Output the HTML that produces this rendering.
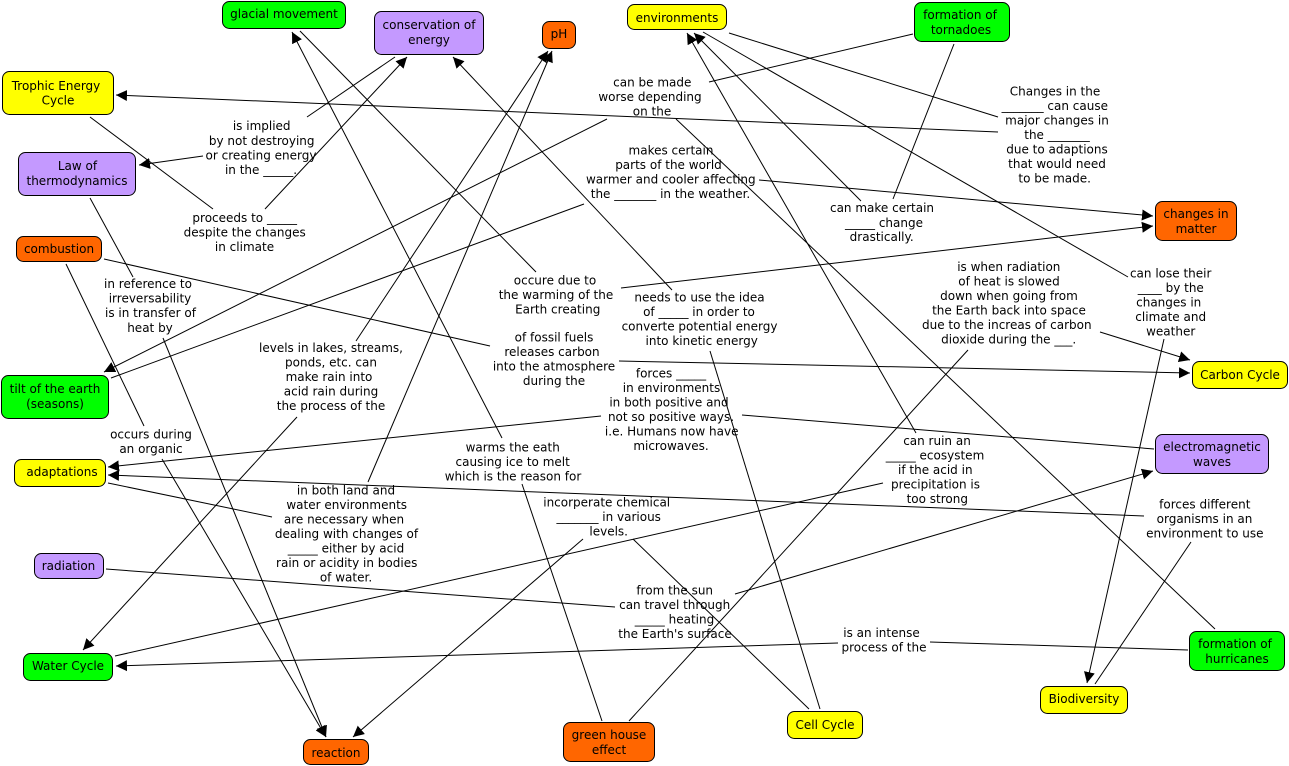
<!DOCTYPE html>
<html><head><meta charset="utf-8"><style>
html,body{margin:0;padding:0;background:#fff}
svg{display:block}
text{font-family:"DejaVu Sans","Liberation Sans",sans-serif;font-size:12px;fill:#000;text-anchor:middle}
.n{stroke:#000;stroke-width:1}
.g{fill:#00ff00}.y{fill:#ffff00}.p{fill:#c499ff}.o{fill:#ff6600}
line{stroke:#000;stroke-width:1}
line.a{marker-end:url(#m)}
</style></head><body>
<svg width="1289" height="766" viewBox="0 0 1289 766" xmlns="http://www.w3.org/2000/svg">
<defs><marker id="m" markerUnits="userSpaceOnUse" markerWidth="12" markerHeight="12" refX="11" refY="6" orient="auto"><path d="M0,0.5 L11,6 L0,11.5 Z" fill="#000"/></marker></defs>

<line x1="90" y1="117" x2="213" y2="209"/>
<line class="a" x1="265" y1="209" x2="407" y2="57"/>
<line x1="395" y1="57" x2="307" y2="117"/>
<line class="a" x1="203" y1="156" x2="139" y2="165"/>
<line x1="90" y1="198" x2="133" y2="277"/>
<line class="a" x1="163" y1="338" x2="326" y2="737"/>
<line x1="66" y1="264" x2="144" y2="426"/>
<line class="a" x1="162" y1="459" x2="326" y2="737"/>
<line x1="104" y1="259" x2="490" y2="346"/>
<line class="a" x1="619" y1="361" x2="1190" y2="373"/>
<line x1="300" y1="31" x2="536" y2="272"/>
<line class="a" x1="621" y1="288" x2="1153" y2="226"/>
<line class="a" x1="502" y1="438" x2="292" y2="32"/>
<line x1="602" y1="721" x2="522" y2="484"/>
<line x1="913" y1="34" x2="709" y2="82"/>
<line x1="676" y1="119" x2="1215" y2="629"/>
<line class="a" x1="998" y1="132" x2="116" y2="95"/>
<line x1="729" y1="33" x2="998" y2="117"/>
<line x1="703" y1="32" x2="1128" y2="277"/>
<line class="a" x1="1164" y1="339" x2="1087" y2="683"/>
<line x1="1191" y1="542" x2="1095" y2="684"/>
<line class="a" x1="1144" y1="516" x2="108" y2="475"/>
<line x1="108" y1="483" x2="272" y2="517"/>
<line class="a" x1="368" y1="482" x2="552" y2="51"/>
<line class="a" x1="356" y1="341" x2="548" y2="51"/>
<line class="a" x1="297" y1="417" x2="83" y2="650"/>
<line x1="115" y1="656" x2="883" y2="483"/>
<line class="a" x1="916" y1="433" x2="687" y2="33"/>
<line x1="954" y1="44" x2="893" y2="199"/>
<line class="a" x1="861" y1="201" x2="694" y2="33"/>
<line x1="111" y1="378" x2="584" y2="204"/>
<line class="a" x1="759" y1="180" x2="1153" y2="216"/>
<line class="a" x1="607" y1="119" x2="104" y2="372"/>
<line x1="629" y1="721" x2="968" y2="350"/>
<line class="a" x1="1100" y1="332" x2="1190" y2="360"/>
<line x1="820" y1="709" x2="710" y2="351"/>
<line class="a" x1="672" y1="290" x2="453" y2="57"/>
<line x1="1154" y1="449" x2="742" y2="415"/>
<line class="a" x1="601" y1="416" x2="108" y2="467"/>
<line x1="106" y1="569" x2="615" y2="607"/>
<line class="a" x1="735" y1="594" x2="1153" y2="471"/>
<line x1="1188" y1="650" x2="930" y2="642"/>
<line class="a" x1="838" y1="643" x2="116" y2="666"/>
<line x1="809" y1="709" x2="633" y2="539"/>
<line class="a" x1="583" y1="539" x2="353" y2="737"/>

<rect class="n g" x="222.5" y="1.5" width="123" height="27" rx="7"/>
<rect class="n p" x="374.5" y="11.5" width="109" height="43" rx="7"/>
<rect class="n o" x="542.5" y="21.5" width="33" height="27" rx="7"/>
<rect class="n y" x="627.5" y="4.5" width="99" height="25" rx="7"/>
<rect class="n g" x="914.5" y="2.5" width="95" height="39" rx="7"/>
<rect class="n y" x="2.5" y="71.5" width="111" height="43" rx="7"/>
<rect class="n p" x="18.5" y="152.5" width="117" height="43" rx="7"/>
<rect class="n o" x="16.5" y="236.5" width="85" height="25" rx="7"/>
<rect class="n g" x="1.5" y="375.5" width="107" height="43" rx="7"/>
<rect class="n y" x="14.5" y="459.5" width="91" height="27" rx="7"/>
<rect class="n p" x="34.5" y="553.5" width="69" height="25" rx="7"/>
<rect class="n g" x="23.5" y="653.5" width="89" height="27" rx="7"/>
<rect class="n o" x="303.5" y="739.5" width="65" height="25" rx="7"/>
<rect class="n o" x="563.5" y="722.5" width="91" height="39" rx="7"/>
<rect class="n y" x="787.5" y="711.5" width="75" height="27" rx="7"/>
<rect class="n y" x="1040.5" y="686.5" width="87" height="27" rx="7"/>
<rect class="n g" x="1189.5" y="631.5" width="95" height="39" rx="7"/>
<rect class="n y" x="1192.5" y="361.5" width="95" height="27" rx="7"/>
<rect class="n p" x="1155.5" y="434.5" width="113" height="39" rx="7"/>
<rect class="n o" x="1155.5" y="201.5" width="81" height="39" rx="7"/>

<text x="284" y="18">glacial movement</text>
<text x="429" y="29">conservation of</text><text x="429" y="44">energy</text>
<text x="559" y="38">pH</text>
<text x="677" y="22">environments</text>
<text x="960" y="19">formation of</text><text x="961" y="34">tornadoes</text>
<text x="56" y="90">Trophic Energy</text><text x="58" y="104.500">Cycle</text>
<text x="77.500" y="170">Law of</text><text x="77" y="185">thermodynamics</text>
<text x="59" y="253">combustion</text>
<text x="55" y="393">tilt of the earth</text><text x="55" y="408">(seasons)</text>
<text x="62" y="476">adaptations</text>
<text x="68.500" y="570">radiation</text>
<text x="68" y="670">Water Cycle</text>
<text x="336" y="757">reaction</text>
<text x="609" y="739">green house</text><text x="609" y="754">effect</text>
<text x="825" y="729">Cell Cycle</text>
<text x="1084" y="703">Biodiversity</text>
<text x="1235" y="648">formation of</text><text x="1237" y="663">hurricanes</text>
<text x="1240" y="379">Carbon Cycle</text>
<text x="1212" y="451">electromagnetic</text><text x="1212" y="466">waves</text>
<text x="1196" y="218">changes in</text><text x="1196" y="233">matter</text>

<text x="261.700" y="130">is implied</text><text x="261.700" y="145">by not destroying</text><text x="261" y="159.500">or creating energy</text><text x="261" y="174">in the _____.</text>
<text x="244.700" y="222">proceeds to _____</text><text x="244.700" y="236.500">despite the changes</text><text x="244.500" y="251">in climate</text>
<text x="148" y="288">in reference to</text><text x="150" y="302.500">irreversability</text><text x="150.500" y="317">is in transfer of</text><text x="150" y="332">heat by</text>
<text x="331" y="352">levels in lakes, streams,</text><text x="331" y="366.500">ponds, etc. can</text><text x="329" y="381">make rain into</text><text x="331" y="395.500">acid rain during</text><text x="331" y="410">the process of the</text>
<text x="151" y="438.500">occurs during</text><text x="151" y="453">an organic</text>
<text x="346" y="494.500">in both land and</text><text x="346.700" y="509">water environments</text><text x="344" y="523.500">are necessary when</text><text x="346.500" y="538">dealing with changes of</text><text x="346" y="552.500">_____ either by acid</text><text x="346.700" y="567">rain or acidity in bodies</text><text x="346" y="581.500">of water.</text>
<text x="555" y="284.500">occure due to</text><text x="556" y="299">the warming of the</text><text x="557.700" y="313.500">Earth creating</text>
<text x="554" y="341.500">of fossil fuels</text><text x="552" y="356">releases carbon</text><text x="554" y="370.500">into the atmosphere</text><text x="554" y="385">during the</text>
<text x="699.500" y="301.500">needs to use the idea</text><text x="699" y="316">of _____ in order to</text><text x="699.500" y="330.500">converte potential energy</text><text x="701.700" y="345">into kinetic energy</text>
<text x="671" y="377.500">forces _____</text><text x="671.500" y="392">in environments</text><text x="669" y="406.500">in both positive and</text><text x="671" y="421">not so positive ways.</text><text x="671.700" y="435.500">i.e. Humans now have</text><text x="671" y="450">microwaves.</text>
<text x="512.700" y="451.500">warms the eath</text><text x="512.700" y="466">causing ice to melt</text><text x="513" y="480.500">which is the reason for</text>
<text x="606.700" y="506.500">incorperate chemical</text><text x="608.700" y="521">_______ in various</text><text x="608.700" y="535.500">levels.</text>
<text x="674.700" y="594.500">from the sun</text><text x="674.700" y="609">can travel through</text><text x="674.500" y="623.500">_____ heating</text><text x="675" y="638">the Earth's surface</text>
<text x="652.300" y="86.500">can be made</text><text x="650" y="101">worse depending</text><text x="652" y="115.500">on the</text>
<text x="671" y="154.500">makes certain</text><text x="668.500" y="169">parts of the world</text><text x="670.800" y="183.500">warmer and cooler affecting</text><text x="670.500" y="198">the _______ in the weather.</text>
<text x="1055" y="95.500">Changes in the</text><text x="1054.800" y="110">_______ can cause</text><text x="1057" y="124.500">major changes in</text><text x="1057" y="139">the _______</text><text x="1057" y="153.500">due to adaptions</text><text x="1057" y="168">that would need</text><text x="1054.700" y="182.500">to be made.</text>
<text x="882" y="212">can make certain</text><text x="884" y="227">_____ change</text><text x="881.700" y="241">drastically.</text>
<text x="1008.800" y="271">is when radiation</text><text x="1009" y="285.500">of heat is slowed</text><text x="1009" y="300">down when going from</text><text x="1009" y="314.500">the Earth back into space</text><text x="1006.800" y="329">due to the increas of carbon</text><text x="1008.700" y="343.500">dioxide during the ___.</text>
<text x="1170.700" y="277.500">can lose their</text><text x="1170.800" y="292">____ by the</text><text x="1168.700" y="306.500">changes in</text><text x="1170.700" y="321">climate and</text><text x="1170.700" y="335.500">weather</text>
<text x="937" y="445">can ruin an</text><text x="935" y="459.500">_____ ecosystem</text><text x="935.300" y="474">if the acid in</text><text x="935.500" y="488.500">precipitation is</text><text x="937.300" y="503">too strong</text>
<text x="1204.800" y="508.500">forces different</text><text x="1204.500" y="523">organisms in an</text><text x="1204.800" y="537.500">environment to use</text>
<text x="881.500" y="637">is an intense</text><text x="884" y="651.500">process of the</text>
</svg>
</body></html>
